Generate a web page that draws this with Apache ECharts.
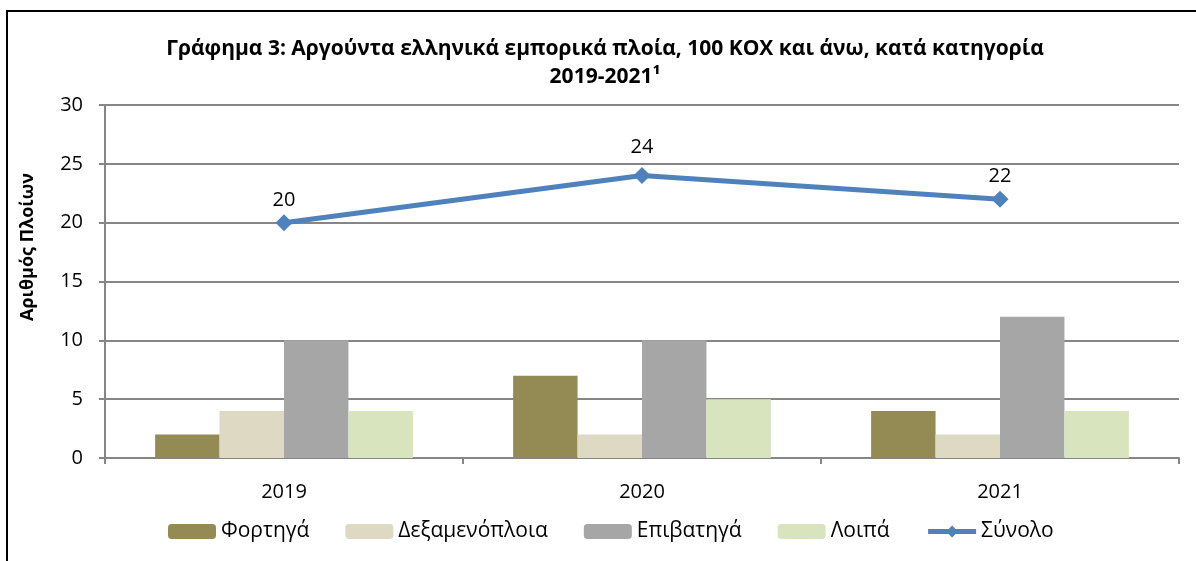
<!DOCTYPE html>
<html>
<head>
<meta charset="utf-8">
<script src="https://cdn.jsdelivr.net/npm/echarts@6/dist/echarts.min.js"></script>
<style>
  html, body { margin: 0; padding: 0; background: #fff; }
  #chart { width: 1196px; height: 561px; }
</style>
</head>
<body>
<div id="chart"></div>
<script>
// data
const years = ['2019', '2020', '2021'];
const fortiga = [2, 7, 4];
const dexamenoploia = [4, 2, 2];
const epivatiga = [10, 10, 12];
const loipa = [4, 5, 4];
const synolo = [20, 24, 22];
const yTicks = [0, 5, 10, 15, 20, 25, 30];

const chart = echarts.init(document.getElementById('chart'));
const font = 'Open Sans, Noto Sans, sans-serif';

function barSeries(name, data, color) {
  return {
    name: name,
    type: 'bar',
    data: data,
    barGap: 0,
    barCategoryGap: '28%',
    itemStyle: { color: color },
    emphasis: { disabled: true }
  };
}

// the 2020 label sits a bit higher in the original (kept clear of the line)
const synoloData = synolo.map((v, i) => i === 1
  ? { value: v, label: { distance: 10 } }
  : v);

chart.setOption({
  animation: false,
  textStyle: { fontFamily: font },
  graphic: [{
    type: 'rect',
    shape: { x: 7, y: 11, width: 1300, height: 700 },
    style: { fill: 'none', stroke: '#000', lineWidth: 2 }
  }, {
    // y axis title, placed like the original
    type: 'text',
    x: 28,
    y: 247,
    rotation: Math.PI / 2,
    style: {
      text: 'Αριθμός Πλοίων',
      fontSize: 18,
      fontWeight: 'bold',
      fontFamily: font,
      fill: '#000',
      align: 'center',
      verticalAlign: 'middle'
    }
  }],
  title: {
    text: 'Γράφημα 3: Αργούντα ελληνικά εμπορικά πλοία, 100 ΚΟΧ και άνω, κατά κατηγορία\n2019-2021¹',
    left: 600,
    textAlign: 'center',
    top: 30,
    textStyle: { fontSize: 21, fontWeight: 'bold', color: '#000', lineHeight: 28, fontFamily: font }
  },
  grid: { left: 105, right: 17, top: 105, bottom: 103 },
  legend: {
    top: 516,
    left: 163,
    itemGap: 36,
    itemWidth: 48,
    itemHeight: 15,
    textStyle: { fontSize: 21, color: '#000', fontFamily: font },
    data: ['Φορτηγά', 'Δεξαμενόπλοια', 'Επιβατηγά', 'Λοιπά',
      { name: 'Σύνολο', lineStyle: { width: 5, color: '#4F81BD' } }]
  },
  xAxis: {
    type: 'category',
    data: years,
    axisLine: { lineStyle: { color: '#868686', width: 2 } },
    axisTick: { show: true, length: 6, lineStyle: { color: '#868686', width: 2 } },
    axisLabel: { fontSize: 20, color: '#000', margin: 24 }
  },
  yAxis: {
    type: 'value',
    min: yTicks[0],
    max: yTicks[yTicks.length - 1],
    interval: 5,
    axisLine: { show: true, lineStyle: { color: '#868686', width: 2 } },
    axisTick: { show: true, length: 6, lineStyle: { color: '#868686', width: 2 } },
    axisLabel: { fontSize: 20, color: '#000', margin: 22 },
    splitLine: { lineStyle: { color: '#868686', width: 2 } }
  },
  series: [
    barSeries('Φορτηγά', fortiga, '#948A54'),
    barSeries('Δεξαμενόπλοια', dexamenoploia, '#DDD9C3'),
    barSeries('Επιβατηγά', epivatiga, '#A6A6A6'),
    barSeries('Λοιπά', loipa, '#D7E4BD'),
    {
      name: 'Σύνολο',
      type: 'line',
      data: synoloData,
      symbol: 'diamond',
      symbolSize: 17,
      lineStyle: { color: '#4F81BD', width: 5 },
      itemStyle: { color: '#4F81BD' },
      label: { show: true, position: 'top', distance: 4, fontSize: 20, color: '#000' },
      emphasis: { disabled: true }
    }
  ]
});
</script>
</body>
</html>
